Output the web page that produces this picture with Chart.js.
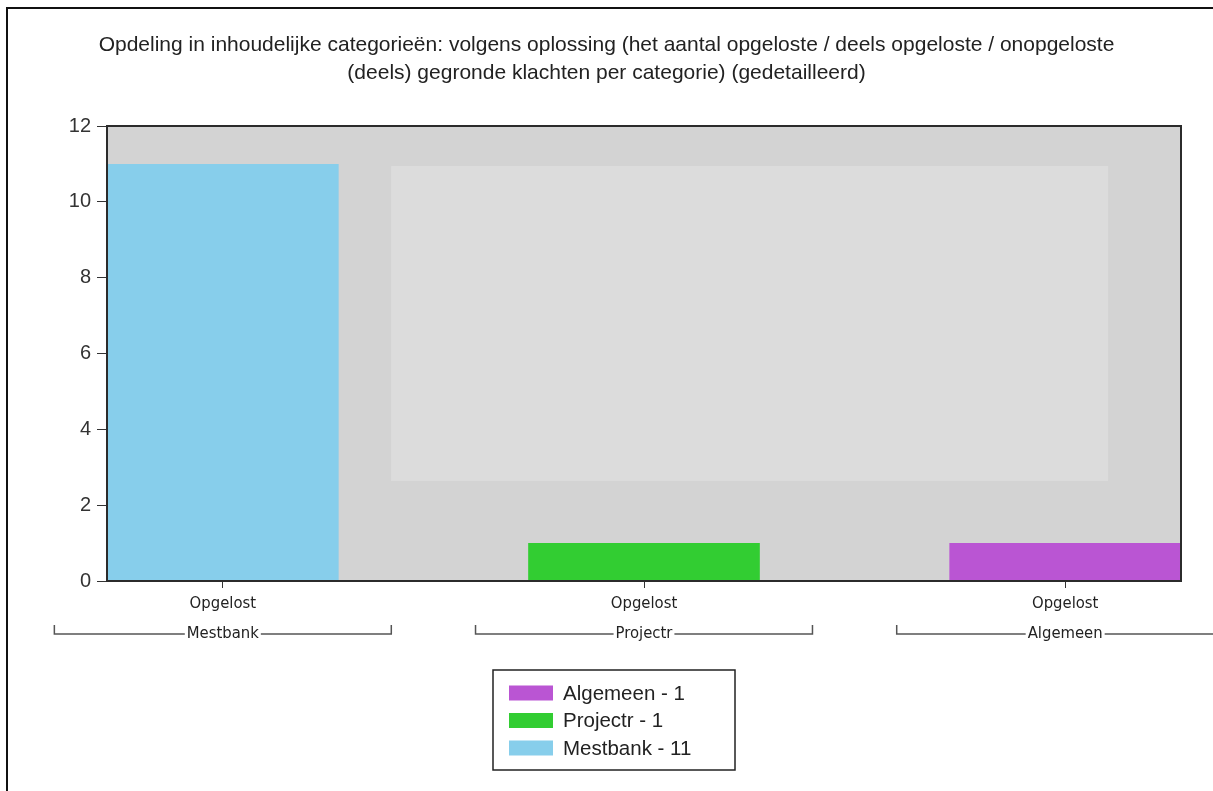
<!DOCTYPE html>
<html lang="nl">
<head>
<meta charset="UTF-8">
<title>Opdeling in inhoudelijke categorieën</title>
<script src="https://cdn.jsdelivr.net/npm/chart.js@4.4.1/dist/chart.umd.min.js"></script>
<style>
    html, body { margin: 0; padding: 0; background: #fff; }
    .page { position: relative; width: 1213px; height: 791px; overflow: hidden; }
    .frame {
        position: absolute; left: 6px; top: 7px; right: -10px; bottom: -10px;
        border-top: 2px solid #111; border-left: 2px solid #111;
    }
    #chart-wrap { position: absolute; left: 0; top: 0; width: 1213px; height: 791px; }
</style>
</head>
<body>
<div class="page">
    <div class="frame"></div>
    <div id="chart-wrap"><canvas id="complaints-chart" width="1213" height="791"></canvas></div>
</div>
<script>
// ===================================================================
// DATA
// ===================================================================
const categories = ['Mestbank', 'Projectr', 'Algemeen'];
const resolutionLabels = ['Opgelost', 'Opgelost', 'Opgelost'];
const complaintCounts = [11, 1, 1];
const barColors = ['#87CEEB', '#32CD32', '#BA55D3'];
const yTickValues = [0, 2, 4, 6, 8, 10, 12];
const titleLines = [
    'Opdeling in inhoudelijke categorieën: volgens oplossing (het aantal opgeloste / deels opgeloste / onopgeloste',
    '(deels) gegronde klachten per categorie) (gedetailleerd)'
];

const TEXT_FONT = 'Arial, "Liberation Sans", sans-serif';
const NARROW_FONT = '"DejaVu Sans Condensed", "Liberation Sans Narrow", Arial, "Liberation Sans", sans-serif';

// ===================================================================
// PLUGINS
// ===================================================================

// gray plot background plus the lighter inner panel
const plotBackground = {
    id: 'plotBackground',
    beforeDatasetsDraw(chart) {
        const { ctx, chartArea: a } = chart;
        ctx.save();
        ctx.fillStyle = '#D3D3D3';
        ctx.fillRect(a.left, a.top, a.width, a.height);
        ctx.fillStyle = '#DCDCDC';
        ctx.fillRect(a.left + a.width * 0.2645, a.top + a.height * 0.088,
                     a.width * 0.6676, a.height * 0.692);
        ctx.restore();
    }
};

// dark frame round the plot area, drawn over the bars
const plotFrame = {
    id: 'plotFrame',
    afterDatasetsDraw(chart) {
        const { ctx, chartArea: a } = chart;
        ctx.save();
        ctx.strokeStyle = '#2b2b2b';
        ctx.lineWidth = 2;
        ctx.strokeRect(a.left, a.top, a.width, a.height);
        ctx.restore();
    }
};

// category brackets under the "Opgelost" ticks
const groupBrackets = {
    id: 'groupBrackets',
    afterDraw(chart) {
        const { ctx, chartArea: a } = chart;
        const xScale = chart.scales.x;
        const y = a.bottom + 53;
        ctx.save();
        ctx.font = `16.5px ${NARROW_FONT}`;
        ctx.fillStyle = '#222';
        ctx.strokeStyle = '#555';
        ctx.lineWidth = 1.5;
        ctx.textAlign = 'center';
        ctx.textBaseline = 'middle';
        categories.forEach((name, i) => {
            const x0 = xScale.getPixelForValue(i - 0.4);
            const x1 = xScale.getPixelForValue(i + 0.4);
            const cx = xScale.getPixelForValue(i);
            const half = ctx.measureText(name).width / 2 + 2;
            ctx.fillText(name, cx, y);
            ctx.beginPath();
            ctx.moveTo(x0, y - 9);
            ctx.lineTo(x0, y);
            ctx.lineTo(cx - half, y);
            ctx.moveTo(cx + half, y);
            ctx.lineTo(x1, y);
            ctx.lineTo(x1, y - 9);
            ctx.stroke();
        });
        ctx.restore();
    }
};

// boxed legend, listed in reverse order
const boxLegend = {
    id: 'boxLegend',
    afterDraw(chart) {
        const { ctx, chartArea: a } = chart;
        const boxW = 242, boxH = 100;
        const left = Math.round(chart.width / 2 + 7 - boxW / 2);
        const top = a.bottom + 89;
        ctx.save();
        ctx.fillStyle = '#fff';
        ctx.fillRect(left, top, boxW, boxH);
        ctx.strokeStyle = '#222';
        ctx.lineWidth = 1.5;
        ctx.strokeRect(left, top, boxW, boxH);
        ctx.font = `20.5px ${TEXT_FONT}`;
        ctx.textBaseline = 'middle';
        ctx.textAlign = 'left';
        const order = categories.map((_, i) => i).reverse();
        order.forEach((idx, row) => {
            const cy = top + 23 + row * 27.5;
            ctx.fillStyle = barColors[idx];
            ctx.fillRect(left + 16, cy - 7.5, 44, 15);
            ctx.fillStyle = '#222';
            ctx.fillText(`${categories[idx]} - ${complaintCounts[idx]}`, left + 70, cy + 1);
        });
        ctx.restore();
    }
};

// ===================================================================
// CHART
// ===================================================================
document.addEventListener('DOMContentLoaded', () => {
    const ctx = document.getElementById('complaints-chart').getContext('2d');

    new Chart(ctx, {
        type: 'bar',
        data: {
            datasets: categories.map((name, i) => ({
                label: name,
                data: [{ x: i, y: complaintCounts[i] }],
                backgroundColor: barColors[i],
                borderWidth: 0
            }))
        },
        options: {
            responsive: false,
            devicePixelRatio: 1,
            animation: false,
            layout: { padding: 0 },
            datasets: {
                bar: { grouped: false, barPercentage: 0.55, categoryPercentage: 1 }
            },
            plugins: {
                legend: { display: false },
                tooltip: { enabled: false },
                title: {
                    display: true,
                    text: titleLines,
                    color: '#222',
                    font: { family: TEXT_FONT, size: 21, weight: 'normal', lineHeight: 28 / 21 },
                    padding: { top: 31, bottom: 39 }
                }
            },
            scales: {
                x: {
                    type: 'linear',
                    offset: false,
                    min: -0.275,
                    max: 2.275,
                    afterBuildTicks: scale => {
                        scale.ticks = categories.map((_, i) => ({ value: i }));
                    },
                    afterFit: scale => { scale.height = 210; },
                    ticks: {
                        callback: (value, index) => resolutionLabels[index],
                        color: '#222',
                        padding: 6,
                        maxRotation: 0,
                        font: { family: NARROW_FONT, size: 16.5 }
                    },
                    grid: { offset: false, drawOnChartArea: false, drawTicks: true, tickLength: 7, color: '#333' },
                    border: { display: true, color: '#333', width: 2 }
                },
                y: {
                    min: 0,
                    max: 12,
                    afterBuildTicks: scale => {
                        scale.ticks = yTickValues.map(v => ({ value: v }));
                    },
                    afterFit: scale => { scale.width = 107; },
                    ticks: {
                        color: '#333',
                        padding: 6,
                        font: { family: TEXT_FONT, size: 20 }
                    },
                    grid: { drawOnChartArea: false, drawTicks: true, tickLength: 10, color: '#333' },
                    border: { display: true, color: '#333', width: 2 }
                },
                // empty right-hand axis, only keeps the margin right of the plot
                yRight: {
                    position: 'right',
                    min: 0,
                    max: 12,
                    afterFit: scale => { scale.width = 32; },
                    ticks: { display: false },
                    grid: { display: false, drawTicks: false },
                    border: { display: false }
                }
            }
        },
        plugins: [plotBackground, plotFrame, groupBrackets, boxLegend]
    });
});
</script>
</body>
</html>
